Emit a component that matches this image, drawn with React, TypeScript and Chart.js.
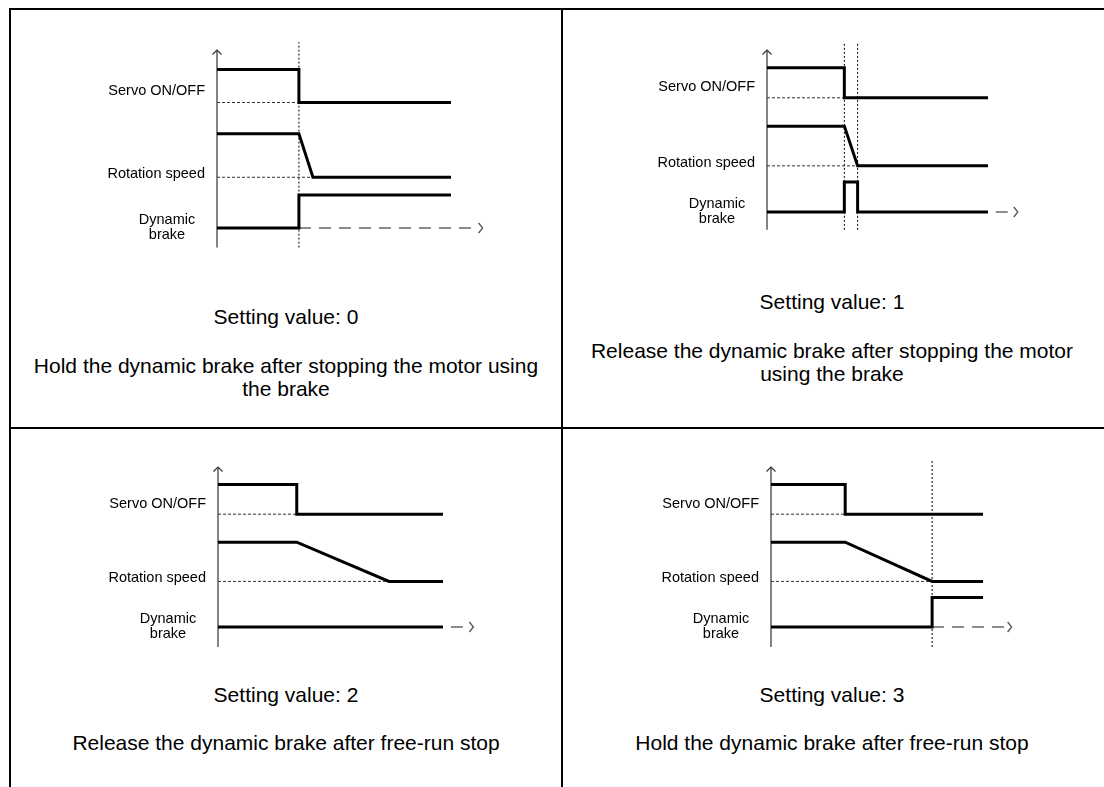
import React, { useEffect, useRef } from "react";
import { Chart, registerables } from "chart.js";

Chart.register(...registerables);

// ---- Data (time axis: 0 = trace start, 100 = trace end; levels in arbitrary units) ----
const SERVO_T = [0, 35, 35, 100];
const SERVO_LEVEL = [89, 89, 70.5, 70.5];

const SPEED_T_BRAKE = [0, 35, 41, 100];
const SPEED_T_FREE = [0, 35, 76, 100];
const SPEED_LEVEL = [53, 53, 28.5, 28.5];

const BRAKE_T_0 = [0, 35, 35, 100];
const BRAKE_L_0 = [0, 0, 18.5, 18.5];
const BRAKE_T_1 = [0, 35, 35, 41, 41, 100];
const BRAKE_L_1 = [0, 0, 18.5, 18.5, 0, 0];
const BRAKE_T_2 = [0, 100];
const BRAKE_L_2 = [0, 0];
const BRAKE_T_3 = [0, 76, 76, 100];
const BRAKE_L_3 = [0, 0, 18.5, 18.5];

const SPEED_T = [SPEED_T_BRAKE, SPEED_T_BRAKE, SPEED_T_FREE, SPEED_T_FREE];
const BRAKE_T = [BRAKE_T_0, BRAKE_T_1, BRAKE_T_2, BRAKE_T_3];
const BRAKE_L = [BRAKE_L_0, BRAKE_L_1, BRAKE_L_2, BRAKE_L_3];

const SERVO_REF_END = [35, 35, 35, 35];
const SPEED_REF_END = [41, 41, 85, 85];
const MARKERS = [[35], [35, 41], [], [76]];
const IDLE_START = [35, 103.5, 103.5, 76];
const IDLE_END = 110;
const ARROW_T = 113.5;
const AXIS_TOP = 100;
const AXIS_BOTTOM = [-11, -11, -12.5, -12.5];
const MARKER_TOP = 104.5;

const SIGNAL_LABELS = ["Servo ON/OFF", "Rotation speed", "Dynamic\nbrake"];
const LABEL_LEVELS = [77, 30.5, 0.5];

const SETTING_TITLES = [
  "Setting value: 0",
  "Setting value: 1",
  "Setting value: 2",
  "Setting value: 3",
];
const DESCRIPTIONS = [
  ["Hold the dynamic brake after stopping the motor using", "the brake"],
  ["Release the dynamic brake after stopping the motor", "using the brake"],
  ["Release the dynamic brake after free-run stop"],
  ["Hold the dynamic brake after free-run stop"],
];

// ---- Layout (positions only) ----
const GEOM = [
  { left: 95, top: 30, w: 420, h: 230, axisPx: 217, endPx: 451, basePx: 228, topPx: 50 },
  { left: 645, top: 30, w: 420, h: 215, axisPx: 767, endPx: 988, basePx: 212, topPx: 50 },
  { left: 95, top: 445, w: 420, h: 215, axisPx: 218, endPx: 443, basePx: 627, topPx: 467 },
  { left: 645, top: 445, w: 420, h: 215, axisPx: 771, endPx: 983, basePx: 627, topPx: 467 },
];
const CAPTIONS = [
  { left: 11, width: 550, titleY: 316, descY: 365 },
  { left: 563, width: 538, titleY: 301, descY: 350 },
  { left: 11, width: 550, titleY: 694, descY: 742 },
  { left: 563, width: 538, titleY: 694, descY: 742 },
];
const LINE_H = 23;
const FONT = '"Liberation Sans", Arial, Helvetica, sans-serif';

const pts = (xs: number[], ys: number[]) => xs.map((x, k) => ({ x, y: ys[k] }));

const decorPlugin = {
  id: "decor",
  afterDatasetsDraw(chart: any) {
    const { ctx } = chart;
    const xs = chart.scales.x;
    const ys = chart.scales.y;
    const ax = xs.getPixelForValue(0);
    ctx.save();
    // vertical axis arrowhead
    const ty = ys.getPixelForValue(AXIS_TOP);
    ctx.strokeStyle = "#333";
    ctx.lineWidth = 1.2;
    ctx.beginPath();
    ctx.moveTo(ax - 4.5, ty + 4.5);
    ctx.lineTo(ax, ty);
    ctx.lineTo(ax + 4.5, ty + 4.5);
    ctx.stroke();
    // time arrowhead
    const tx = xs.getPixelForValue(ARROW_T);
    const by = ys.getPixelForValue(0);
    ctx.strokeStyle = "#555";
    ctx.lineWidth = 1.3;
    ctx.beginPath();
    ctx.moveTo(tx - 4, by - 5);
    ctx.lineTo(tx, by);
    ctx.lineTo(tx - 4, by + 5);
    ctx.stroke();
    // signal labels
    ctx.fillStyle = "#000";
    ctx.font = `14.5px ${FONT}`;
    ctx.textBaseline = "middle";
    SIGNAL_LABELS.forEach((lab, k) => {
      const lines = lab.split("\n");
      const cy = ys.getPixelForValue(LABEL_LEVELS[k]);
      if (lines.length === 1) {
        ctx.textAlign = "right";
        ctx.fillText(lab, ax - 12, cy);
      } else {
        ctx.textAlign = "center";
        lines.forEach((ln, j) =>
          ctx.fillText(ln, ax - 50, cy + (j - (lines.length - 1) / 2) * 15)
        );
      }
    });
    ctx.restore();
  },
};

function buildConfig(i: number): any {
  const g = GEOM[i];
  const pxX = (g.endPx - g.axisPx) / 100;
  const pxY = (g.basePx - g.topPx) / 100;
  const xMin = (g.left - g.axisPx) / pxX;
  const xMax = (g.left + g.w - g.axisPx) / pxX;
  const yMax = (g.basePx - g.top) / pxY;
  const yMin = (g.basePx - (g.top + g.h)) / pxY;

  const thin = { pointRadius: 0, fill: false, tension: 0 };
  const thick = {
    pointRadius: 0,
    fill: false,
    tension: 0,
    borderColor: "#000",
    borderWidth: 3,
    borderJoinStyle: "miter",
    borderCapStyle: "butt",
    order: 0,
  };

  const datasets: any[] = [
    { ...thick, label: "Servo ON/OFF", data: pts(SERVO_T, SERVO_LEVEL) },
    { ...thick, label: "Rotation speed", data: pts(SPEED_T[i], SPEED_LEVEL) },
    { ...thick, label: "Dynamic brake", data: pts(BRAKE_T[i], BRAKE_L[i]) },
    {
      ...thin,
      label: "axis",
      data: [{ x: 0, y: AXIS_BOTTOM[i] }, { x: 0, y: AXIS_TOP }],
      borderColor: "#333",
      borderWidth: 1.2,
      order: 2,
    },
    {
      ...thin,
      label: "servo ref",
      data: [
        { x: 0, y: SERVO_LEVEL[3] },
        { x: SERVO_REF_END[i], y: SERVO_LEVEL[3] },
      ],
      borderColor: "#333",
      borderWidth: 1,
      borderDash: [3, 2],
      order: 3,
    },
    {
      ...thin,
      label: "speed ref",
      data: [
        { x: 0, y: SPEED_LEVEL[3] },
        { x: SPEED_REF_END[i], y: SPEED_LEVEL[3] },
      ],
      borderColor: "#333",
      borderWidth: 1,
      borderDash: [3, 2],
      order: 3,
    },
    {
      ...thin,
      label: "idle",
      data: [
        { x: IDLE_START[i], y: 0 },
        { x: IDLE_END, y: 0 },
      ],
      borderColor: "#666",
      borderWidth: 1.5,
      borderDash: [12, 8],
      order: 4,
    },
  ];
  MARKERS[i].forEach((m) =>
    datasets.push({
      ...thin,
      label: "marker",
      data: [
        { x: m, y: AXIS_BOTTOM[i] },
        { x: m, y: MARKER_TOP },
      ],
      borderColor: "#000",
      borderWidth: 1,
      borderDash: [2, 2],
      order: 5,
    })
  );

  return {
    type: "line",
    data: { datasets },
    options: {
      animation: false,
      responsive: false,
      maintainAspectRatio: false,
      devicePixelRatio: 1,
      layout: { padding: 0 },
      events: [],
      plugins: {
        legend: { display: false },
        tooltip: { enabled: false },
        title: { display: false },
      },
      scales: {
        x: { type: "linear", display: false, min: xMin, max: xMax },
        y: { type: "linear", display: false, min: yMin, max: yMax },
      },
    },
    plugins: [decorPlugin],
  };
}

function Panel({ i }: { i: number }) {
  const ref = useRef<HTMLCanvasElement | null>(null);
  const g = GEOM[i];
  useEffect(() => {
    if (!ref.current) return;
    const chart = new Chart(ref.current, buildConfig(i));
    return () => chart.destroy();
  }, [i]);
  return (
    <canvas
      ref={ref}
      width={g.w}
      height={g.h}
      style={{ position: "absolute", left: g.left, top: g.top, width: g.w, height: g.h }}
    />
  );
}

function Caption({ i }: { i: number }) {
  const c = CAPTIONS[i];
  const base: React.CSSProperties = {
    position: "absolute",
    left: c.left,
    width: c.width,
    textAlign: "center",
    font: `21px ${FONT}`,
    lineHeight: `${LINE_H}px`,
    color: "#000",
    whiteSpace: "nowrap",
  };
  return (
    <>
      <div style={{ ...base, top: c.titleY - LINE_H / 2 }}>{SETTING_TITLES[i]}</div>
      <div style={{ ...base, top: c.descY - LINE_H / 2 }}>
        {DESCRIPTIONS[i].map((ln, k) => (
          <div key={k}>{ln}</div>
        ))}
      </div>
    </>
  );
}

export default function App() {
  const border = (s: React.CSSProperties): React.CSSProperties => ({
    position: "absolute",
    background: "#000",
    ...s,
  });
  return (
    <div
      style={{
        position: "fixed",
        left: 0,
        top: 0,
        width: 1104,
        height: 787,
        background: "#fff",
        overflow: "hidden",
      }}
    >
      <div style={border({ left: 9, top: 8, width: 2, height: 779 })} />
      <div style={border({ left: 9, top: 8, width: 1095, height: 2 })} />
      <div style={border({ left: 561, top: 8, width: 2, height: 779 })} />
      <div style={border({ left: 9, top: 427, width: 1095, height: 2 })} />
      {[0, 1, 2, 3].map((i) => (
        <Panel key={`p${i}`} i={i} />
      ))}
      {[0, 1, 2, 3].map((i) => (
        <Caption key={`c${i}`} i={i} />
      ))}
    </div>
  );
}
